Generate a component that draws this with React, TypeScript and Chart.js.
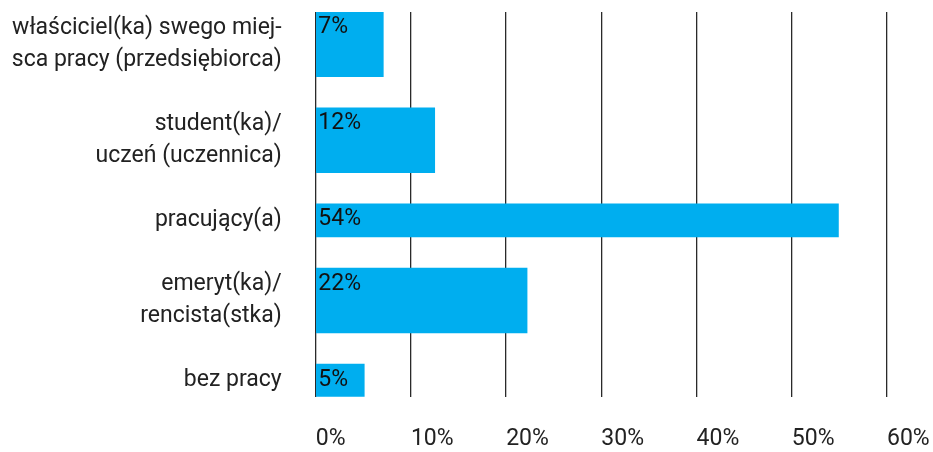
import { useEffect, useRef } from "react";
import { Chart, registerables } from "chart.js";

Chart.register(...registerables);

// Categories (each entry = lines of the label)
const categories: string[][] = [
  ["właściciel(ka) swego miej-", "sca pracy (przedsiębiorca)"],
  ["student(ka)/", "uczeń (uczennica)"],
  ["pracujący(a)"],
  ["emeryt(ka)/", "rencista(stka)"],
  ["bez pracy"],
];

// Bar lengths in percent (labels show the truncated whole percent)
const values: number[] = [7.1, 12.5, 54.9, 22.2, 5.1];

// X axis ticks
const xTicks: number[] = [0, 10, 20, 30, 40, 50, 60];

const FONT_FAMILY = "Roboto, 'Open Sans', sans-serif";
const FONT_SIZE = 23;
const FONT_WEIGHT = "400";
const TEXT_COLOR = "#222222";
const BAR_COLOR = "#00AEEF";
const GRID_COLOR = "#2a2a2a";

// Each category occupies as many units as its label has lines, plus one unit gap
const centers: number[] = [];
let cursor = 0;
categories.forEach((c) => {
  centers.push(cursor + c.length / 2);
  cursor += c.length + 1;
});
const totalUnits = cursor - 1;

const thickIdx = categories.map((c, i) => (c.length > 1 ? i : -1)).filter((i) => i >= 0);
const thinIdx = categories.map((c, i) => (c.length === 1 ? i : -1)).filter((i) => i >= 0);

const valueLabelPlugin = {
  id: "valueLabels",
  afterDraw(chart: any) {
    const ctx = chart.ctx;
    ctx.save();
    ctx.font = `${FONT_WEIGHT} ${FONT_SIZE}px ${FONT_FAMILY}`;
    ctx.fillStyle = "#111111";
    ctx.textAlign = "left";
    ctx.textBaseline = "alphabetic";
    chart.data.datasets.forEach((ds: any, di: number) => {
      const meta = chart.getDatasetMeta(di);
      meta.data.forEach((el: any, i: number) => {
        const p = el.getProps(["x", "y", "base", "height"], true);
        const v = ds.data[i].x;
        const top = p.y - p.height / 2;
        ctx.fillText(Math.floor(v) + "%", p.base + 2, top + 21.5);
      });
    });
    ctx.restore();
  },
};

export default function App() {
  const ref = useRef<HTMLCanvasElement>(null);

  useEffect(() => {
    const chart = new Chart(ref.current as HTMLCanvasElement, {
      type: "bar",
      data: {
        datasets: [
          {
            label: "thick",
            data: thickIdx.map((i) => ({ x: values[i], y: centers[i] })),
            backgroundColor: BAR_COLOR,
            barThickness: 65,
            grouped: false,
            borderWidth: 0,
          } as any,
          {
            label: "thin",
            data: thinIdx.map((i) => ({ x: values[i], y: centers[i] })),
            backgroundColor: BAR_COLOR,
            barThickness: 33,
            grouped: false,
            borderWidth: 0,
          } as any,
        ],
      },
      options: {
        indexAxis: "y",
        animation: false,
        responsive: true,
        maintainAspectRatio: false,
        layout: { padding: { top: 12, right: 46, left: 0, bottom: 0 } },
        plugins: {
          legend: { display: false },
          tooltip: { enabled: false },
        },
        scales: {
          x: {
            type: "linear",
            position: "bottom",
            min: xTicks[0],
            max: xTicks[xTicks.length - 1],
            z: 1,
            afterBuildTicks: (s: any) => {
              s.ticks = xTicks.map((v) => ({ value: v }));
            },
            afterFit: (s: any) => {
              s.height = 55.3;
              s.paddingLeft = 0;
              s.paddingRight = 0;
            },
            grid: {
              color: GRID_COLOR,
              lineWidth: 1.3,
              drawTicks: false,
            },
            border: { display: false },
            ticks: {
              align: "start",
              padding: 29,
              color: TEXT_COLOR,
              font: { family: FONT_FAMILY, size: FONT_SIZE, weight: FONT_WEIGHT as any },
              callback: (v: any) => v + "%",
              autoSkip: false,
              maxRotation: 0,
            },
          },
          y: {
            type: "linear",
            min: 0,
            max: totalUnits,
            reverse: true,
            offset: false,
            afterBuildTicks: (s: any) => {
              s.ticks = centers.map((v) => ({ value: v }));
            },
            afterFit: (s: any) => {
              s.width = 315.7;
              s.paddingTop = 0;
              s.paddingBottom = 0;
            },
            grid: { display: false, drawTicks: false, offset: false },
            border: { display: false },
            ticks: {
              padding: 34,
              color: TEXT_COLOR,
              autoSkip: false,
              font: { family: FONT_FAMILY, size: FONT_SIZE, weight: FONT_WEIGHT as any, lineHeight: 32 / FONT_SIZE },
              callback: (_v: any, idx: number) => categories[idx],
            },
          },
        },
      },
      plugins: [valueLabelPlugin],
    });
    return () => chart.destroy();
  }, []);

  return (
    <div style={{ position: "absolute", left: 0, top: 0, width: 933, height: 452 }}>
      <canvas ref={ref} />
    </div>
  );
}
